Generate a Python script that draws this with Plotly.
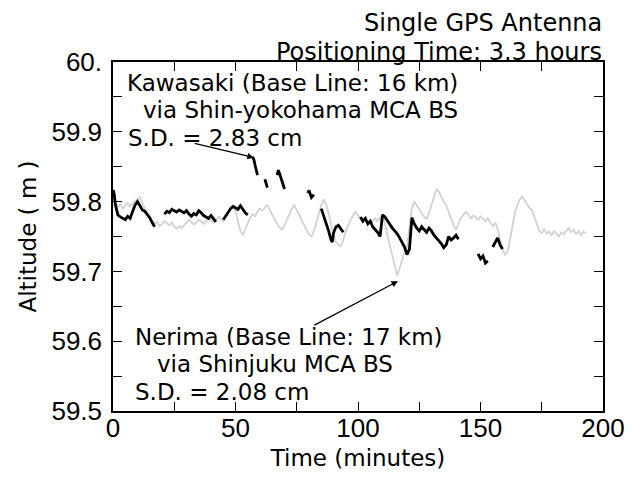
import plotly.graph_objects as go

# ---- data ----
nerima_t = list(range(0, 194))
nerima_alt = [
    59.805, 59.798, 59.792, 59.796, 59.790, 59.794, 59.798, 59.793, 59.797, 59.801,
    59.803, 59.806, 59.798, 59.788, 59.781, 59.776, 59.772, 59.768, 59.771, 59.765,
    59.768, 59.772, 59.769, 59.766, 59.770, 59.764, 59.761, 59.765, 59.762, 59.766,
    59.770, 59.774, 59.771, 59.767, 59.770, 59.774, 59.772, 59.768, 59.772, 59.776,
    59.773, 59.770, 59.774, 59.778, 59.776, 59.772, 59.778, 59.785, 59.791, 59.794,
    59.786, 59.772, 59.758, 59.752, 59.760, 59.770, 59.777, 59.782, 59.779, 59.786,
    59.790, 59.787, 59.792, 59.795, 59.788, 59.780, 59.774, 59.768, 59.763, 59.760,
    59.766, 59.774, 59.783, 59.790, 59.795, 59.789, 59.781, 59.773, 59.766, 59.759,
    59.753, 59.750, 59.758, 59.770, 59.783, 59.795, 59.803, 59.796, 59.783, 59.767,
    59.752, 59.742, 59.738, 59.736, 59.745, 59.757, 59.766, 59.774, 59.780, 59.785,
    59.780, 59.774, 59.770, 59.775, 59.771, 59.768, 59.773, 59.776, 59.772, 59.777,
    59.780, 59.768, 59.752, 59.737, 59.722, 59.708, 59.694, 59.705, 59.718, 59.728,
    59.735, 59.760, 59.790, 59.800, 59.794, 59.788, 59.782, 59.778, 59.775, 59.783,
    59.795, 59.808, 59.818, 59.814, 59.806, 59.800, 59.795, 59.785, 59.775, 59.766,
    59.760, 59.768, 59.776, 59.781, 59.785, 59.782, 59.776, 59.780, 59.778, 59.774,
    59.779, 59.776, 59.772, 59.776, 59.770, 59.765, 59.770, 59.760, 59.745, 59.732,
    59.724, 59.728, 59.745, 59.765, 59.783, 59.795, 59.803, 59.807, 59.801, 59.796,
    59.791, 59.788, 59.778, 59.765, 59.758, 59.755, 59.760, 59.754, 59.757, 59.752,
    59.758, 59.754, 59.750, 59.756, 59.753, 59.758, 59.762, 59.756, 59.760, 59.754,
    59.758, 59.752, 59.757, 59.755,
]

kawasaki_t = [
    0, 0.5, 1, 2, 3, 4, 5, 6, 7, 8, 9, 10, 11, 12, 13, 14, 15, 16, 17, 18,
    21, 22, 23, 24, 25, 26, 27, 28, 29, 30, 31, 32, 33, 34, 35, 36, 37, 38, 39, 40, 41, 42, 43,
    45, 46, 47, 48, 49, 50, 51, 52, 53, 54, 55, 56,
    57, 57.5, 58, 58.5, 59, 60,
    62, 62.5, 63, 64,
    67, 67.5, 68, 69, 70, 71,
    79.5, 80, 81, 82, 83,
    85, 86, 87, 88, 89, 89.5, 90, 91, 92, 93, 94, 95,
    101, 102, 103, 104, 105, 106, 107, 108, 109, 110, 111, 112, 113, 114, 115, 116, 117, 118,
    119, 120, 121, 122, 123, 124, 125, 126, 127, 128, 129, 130, 131, 132, 133, 134, 135, 136,
    137, 138, 139, 140, 141, 142,
    149, 150, 151, 152, 153, 154,
    155, 156, 157, 158, 159,
]
kawasaki_alt = [
    59.817, 59.810, 59.795, 59.781, 59.778, 59.776, 59.774, 59.779, 59.776, 59.786,
    59.795, 59.800, 59.794, 59.788, 59.786, 59.782, 59.777, 59.770, 59.764, None,
    59.782, 59.786, 59.784, 59.789, 59.787, 59.785, 59.788, 59.786, 59.784, 59.787,
    59.782, 59.779, 59.783, 59.781, 59.787, 59.784, 59.780, 59.778, 59.776, 59.780,
    59.775, 59.771, None,
    59.774, 59.780, 59.786, 59.790, 59.793, 59.791, 59.789, 59.794, 59.788, 59.784, 59.781, None,
    59.864, 59.860, 59.852, 59.845, 59.838, None,
    59.832, 59.826, 59.820, None,
    59.838, 59.845, 59.840, 59.830, 59.818, None,
    59.812, 59.816, 59.806, 59.810, None,
    59.790, 59.780, 59.768, 59.758, 59.745, 59.742, 59.755, 59.764, 59.766, 59.760, 59.756, None,
    59.778, 59.772, 59.776, 59.768, 59.772, 59.764, 59.760, 59.756, 59.750, 59.781,
    59.778, 59.772, 59.766, 59.762, 59.758, 59.754, 59.748, 59.742,
    59.735, 59.724, 59.732, 59.777, 59.768, 59.762, 59.758, 59.764, 59.760, 59.756,
    59.762, 59.758, 59.752, 59.748, 59.744, 59.740, 59.734, 59.738,
    59.750, 59.745, 59.748, 59.752, 59.746, None,
    59.725, 59.718, 59.722, 59.712, 59.715, None,
    59.735, 59.742, 59.748, 59.738, 59.732,
]

y_tickvals = [59.5, 59.6, 59.7, 59.8, 59.9, 60.0]
y_ticktext = ["59.5", "59.6", "59.7", "59.8", "59.9", "60."]
x_tickvals = [0, 50, 100, 150, 200]
x_ticktext = ["0", "50", "100", "150", "200"]

TICKFONT = "Liberation Sans, Arial, sans-serif"
TEXTFONT = "DejaVu Sans, Verdana, sans-serif"

fig = go.Figure()
fig.add_trace(go.Scatter(x=nerima_t, y=nerima_alt, mode="lines",
                         line=dict(color="#d2d2d2", width=1.8), connectgaps=False,
                         hoverinfo="skip", showlegend=False))
fig.add_trace(go.Scatter(x=kawasaki_t, y=kawasaki_alt, mode="lines",
                         line=dict(color="black", width=2.8), connectgaps=False,
                         hoverinfo="skip", showlegend=False))

axis_common = dict(showgrid=False, zeroline=False, showline=True, linecolor="black",
                   linewidth=1.5, mirror="allticks", ticks="inside", ticklen=9,
                   tickwidth=1.2, tickcolor="black")

fig.update_xaxes(range=[0, 200], tickvals=x_tickvals, ticktext=x_ticktext,
                 minor=dict(dtick=25, ticks="inside", ticklen=9, tickcolor="black", tickwidth=1.2),
                 tickfont=dict(family=TICKFONT, size=26, color="black"),
                 ticklabelstandoff=-7,
                 title=dict(text="Time (minutes)", font=dict(family=TEXTFONT, size=23, color="black"),
                            standoff=8),
                 **axis_common)
fig.update_yaxes(range=[59.5, 60.0], tickvals=y_tickvals, ticktext=y_ticktext,
                 minor=dict(dtick=0.05, tick0=59.5, ticks="inside", ticklen=9, tickcolor="black", tickwidth=1.2),
                 tickfont=dict(family=TICKFONT, size=26, color="black"),
                 ticklabelstandoff=4,
                 title=dict(text="Altitude ( m )", font=dict(family=TEXTFONT, size=23, color="black"),
                            standoff=8),
                 **axis_common)

tf = dict(family=TEXTFONT, size=23, color="black")
tt = dict(family=TEXTFONT, size=24, color="black")
box = dict(borderpad=0, borderwidth=0, showarrow=False, xanchor="left", yanchor="middle")
ann = []
ann.append(dict(xref="paper", yref="paper", x=0.998, y=1.112, text="Single GPS Antenna",
                showarrow=False, xanchor="right", yanchor="middle", font=tt,
                borderpad=0, borderwidth=0))
ann.append(dict(xref="paper", yref="paper", x=0.998, y=1.029, text="Positioning Time: 3.3 hours",
                showarrow=False, xanchor="right", yanchor="middle", font=tt,
                borderpad=0, borderwidth=0))
ann.append(dict(x=5.8, y=59.9706, text="Kawasaki (Base Line: 16 km)", font=tf, **box))
ann.append(dict(x=12.2, y=59.9312, text="via Shin-yokohama MCA BS", font=tf, **box))
ann.append(dict(x=6.1, y=59.8918, text="S.D. = 2.83 cm", font=tf, **box))
ann.append(dict(x=9, y=59.606, text="Nerima (Base Line: 17 km)", font=tf, **box))
ann.append(dict(x=18, y=59.5667, text="via Shinjuku MCA BS", font=tf, **box))
ann.append(dict(x=9, y=59.5272, text="S.D. = 2.08 cm", font=tf, **box))
# arrows
ann.append(dict(x=57.5, y=59.863, ax=32.7, ay=59.884, axref="x", ayref="y", text="",
                showarrow=True, arrowhead=2, arrowsize=1, arrowwidth=1.3, arrowcolor="black"))
ann.append(dict(x=116.3, y=59.686, ax=81.6, ay=59.622, axref="x", ayref="y", text="",
                showarrow=True, arrowhead=2, arrowsize=1, arrowwidth=1.3, arrowcolor="black"))

fig.update_layout(width=637, height=479, margin=dict(l=113, r=34, t=62, b=68),
                  paper_bgcolor="white", plot_bgcolor="white", annotations=ann)

fig.write_html("out.html")
